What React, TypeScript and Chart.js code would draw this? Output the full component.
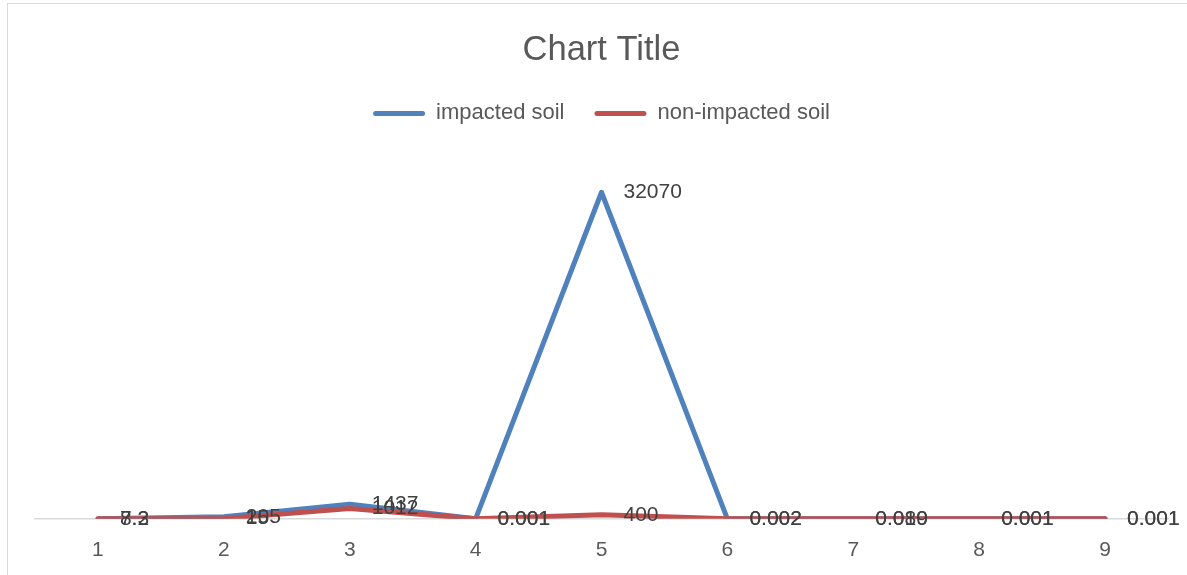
import React, { useEffect, useRef } from "react";
import { Chart, registerables } from "chart.js";

Chart.register(...registerables);

const categories = ["1", "2", "3", "4", "5", "6", "7", "8", "9"];
const impactedSoil = [8.2, 205, 1437, 0.001, 32070, 0.002, 0.08, 0.001, 0.001];
const nonImpactedSoil = [7.3, 15, 1012, 0.001, 400, 0.002, 0.019, 0.001, 0.001];
const impactedLabels = ["8.2", "205", "1437", "0.001", "32070", "0.002", "0.080", "0.001", "0.001"];
const nonImpactedLabels = ["7.3", "15", "1012", "0.001", "400", "0.002", "0.019", "0.001", "0.001"];
const seriesNames = ["impacted soil", "non-impacted soil"];
const yMax = 35000;

const FONT = "'Liberation Sans', Arial, sans-serif";

const dataLabelPlugin = {
  id: "dataLabels",
  afterDatasetsDraw(chart: any) {
    const ctx = chart.ctx;
    const all = [impactedLabels, nonImpactedLabels];
    ctx.save();
    ctx.font = `21px ${FONT}`;
    ctx.fillStyle = "#404040";
    ctx.textAlign = "left";
    ctx.textBaseline = "middle";
    [0, 1].forEach((di) => {
      const meta = chart.getDatasetMeta(di);
      meta.data.forEach((pt: any, i: number) => {
        ctx.fillText(all[di][i], pt.x + 22, pt.y);
      });
    });
    ctx.restore();
  },
};

const legendGapPlugin = {
  id: "legendGap",
  beforeInit(chart: any) {
    const legend = chart.legend;
    if (!legend) return;
    const fit = legend.fit.bind(legend);
    legend.fit = function () {
      fit();
      this.height += 28;
    };
  },
};

export default function App() {
  const ref = useRef<HTMLCanvasElement | null>(null);
  useEffect(() => {
    document.body.style.margin = "0";
    const chart = new Chart(ref.current!, {
      type: "line",
      data: {
        labels: categories,
        datasets: [
          {
            label: seriesNames[0],
            data: impactedSoil,
            borderColor: "#4F81BD",
            backgroundColor: "#4F81BD",
            borderWidth: 5,
            pointRadius: 0,
            tension: 0,
            borderCapStyle: "round",
            borderJoinStyle: "round",
            order: 1,
          },
          {
            label: seriesNames[1],
            data: nonImpactedSoil,
            borderColor: "#C0504D",
            backgroundColor: "#C0504D",
            borderWidth: 5,
            pointRadius: 0,
            tension: 0,
            borderCapStyle: "round",
            borderJoinStyle: "round",
            order: 0,
          },
        ],
      },
      options: {
        animation: false,
        responsive: false,
        maintainAspectRatio: false,
        layout: { padding: { top: 0, left: 35, right: 19, bottom: -7 } },
        plugins: {
          tooltip: { enabled: false },
          title: {
            display: true,
            text: "Chart Title",
            color: "#595959",
            font: { family: FONT, size: 34.5, weight: "normal" },
            padding: { top: 30, bottom: 1 },
          },
          legend: {
            display: true,
            position: "top",
            labels: {
              color: "#595959",
              font: { family: FONT, size: 22 },
              boxWidth: 52,
              boxHeight: 5,
              padding: 30,
              useBorderRadius: true,
              borderRadius: 2.5,
              generateLabels: (chart: any) =>
                chart.data.datasets.map((ds: any, i: number) => ({
                  text: ds.label,
                  fillStyle: ds.borderColor,
                  strokeStyle: ds.borderColor,
                  lineWidth: 0,
                  fontColor: "#595959",
                  hidden: false,
                  datasetIndex: i,
                  borderRadius: 2.5,
                })),
            },
          },
        },
        scales: {
          x: {
            offset: true,
            grid: { display: false, drawTicks: false },
            border: { display: true, color: "#d9d9d9", width: 1.5 },
            ticks: { color: "#595959", font: { family: FONT, size: 21 }, padding: 19 },
          },
          y: {
            display: false,
            min: 0,
            max: yMax,
          },
        },
      },
      plugins: [dataLabelPlugin, legendGapPlugin],
    } as any);
    return () => chart.destroy();
  }, []);
  return (
    <div style={{ position: "relative", width: 1187, height: 575, background: "#fff" }}>
      <div
        style={{
          position: "absolute",
          left: 7,
          top: 3,
          width: 1200,
          height: 600,
          border: "1.5px solid #d9d9d9",
          boxSizing: "border-box",
        }}
      />
      <canvas ref={ref} width={1187} height={575} style={{ position: "absolute", left: 0, top: 0 }} />
    </div>
  );
}
